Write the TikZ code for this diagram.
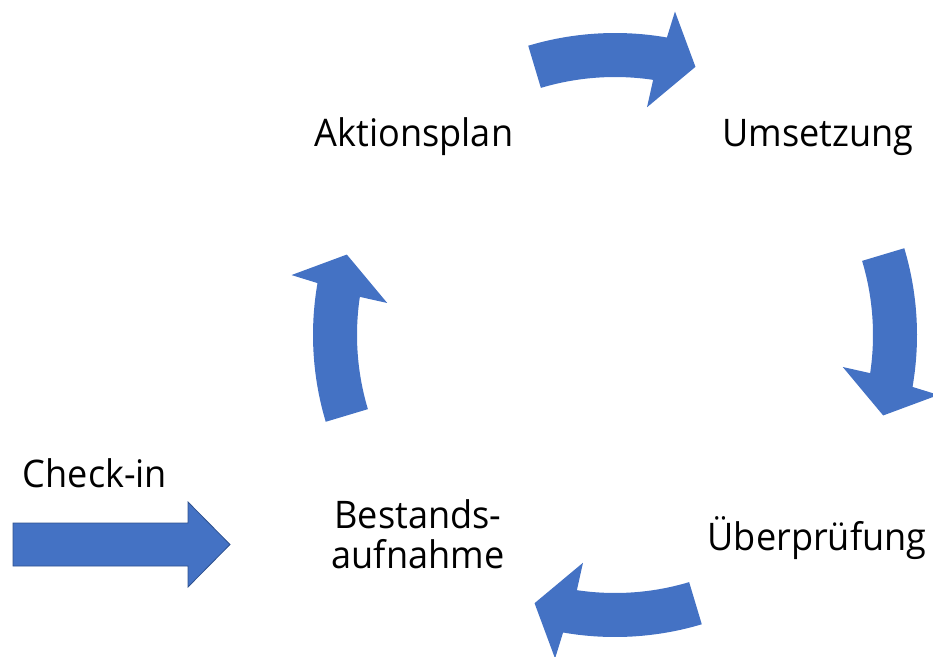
\documentclass[tikz,border=0pt]{standalone}
\usepackage{fontspec}
\setmainfont[FakeStretch=0.95]{Open Sans}
\usetikzlibrary{calc}
\definecolor{officeblue}{HTML}{4472C4}
\definecolor{officeline}{HTML}{2F528F}
\begin{document}
\begin{tikzpicture}[x=1pt,y=1pt,
  lbl/.style={font=\fontsize{38}{40}\selectfont, inner sep=0pt, text=black},
  cyclearrow/.style={fill=officeblue},
  inarrow/.style={fill=officeblue, draw=officeline, line width=0.8pt, line join=miter}]
\useasboundingbox (0,0) rectangle (933,-656);
\clip (0,0) rectangle (933,-656);
\coordinate (C) at (615,-335);
\foreach \a in {90,0,-90,180}{
  \fill[cyclearrow] ($(C)+(\a+16.7:302)$) arc[start angle=\a+16.7, end angle=\a-9.9, radius=302]
    -- ($(C)+(\a-10.5:329)$) -- ($(C)+(\a-16.7:280)$) -- ($(C)+(\a-8:230)$) -- ($(C)+(\a-8.5:258)$)
    arc[start angle=\a-8.5, end angle=\a+16.7, radius=258] -- cycle;
}
\draw[inarrow] (13,-523) -- (188,-523) -- (188,-502) -- (230,-544.5) -- (188,-587) -- (188,-566) -- (13,-566) -- cycle;
\node[lbl, anchor=base] (akt) at (414,-146) {Aktionsplan};
\node[lbl, anchor=base] (ums) at (818,-146) {Umsetzung};
\node[lbl, anchor=base] (ueb) at (817,-550) {Überprüfung};
\node[lbl, anchor=base] (chk) at (95,-487) {Check-in};
\node[lbl, anchor=north, align=center] (best) at (418,-499) {Bestands-\\aufnahme};
\end{tikzpicture}
\end{document}
